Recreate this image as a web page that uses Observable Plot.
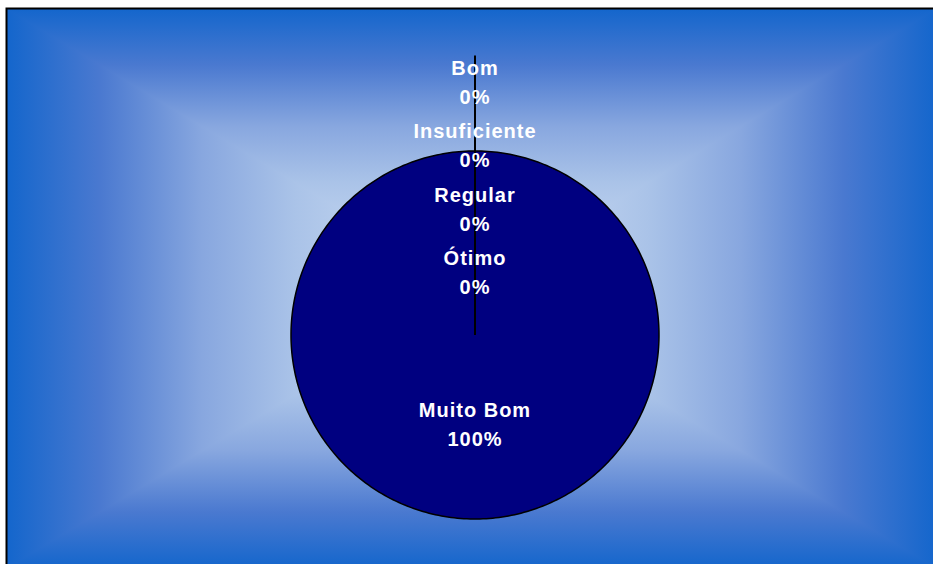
<!DOCTYPE html>
<html><head><meta charset="utf-8">
<script src="https://cdn.jsdelivr.net/npm/d3@7"></script>
<script src="https://cdn.jsdelivr.net/npm/@observablehq/plot@0.6"></script>
<style>
html,body{margin:0;padding:0;background:#fff;}
#wrap{position:relative;width:933px;height:564px;overflow:hidden;}
#wrap svg{position:absolute;left:0;top:0;}
#wrap text{letter-spacing:1px;}
</style></head><body><div id="wrap"></div>
<script>
// ---- data ----
const categories = ["Muito Bom", "Ótimo", "Regular", "Insuficiente", "Bom"];
const values = [100, 0, 0, 0, 0];
const sliceColors = ["#000080", "#000080", "#000080", "#000080", "#000080"];

// ---- layout ----
const W = 933, H = 564;
const cx = 474.5, cy = 334.5, R = 184;

// ---- background (box gradient "from center") ----
const bx0 = 7, by0 = 9, bx1 = 936, by1 = 568;
const gcx = (bx0 + bx1) / 2, gcy = (by0 + by1) / 2;
const bg = d3.select("#wrap").append("svg").attr("width", W).attr("height", H);
const defs = bg.append("defs");
const stops = [[0, "#1466cc"], [0.2, "#4a79d0"], [0.42, "#88a7df"], [0.62, "#aac3e8"], [1, "#d6e3f5"]];
const mkGrad = (id, x1, y1, x2, y2) => {
  const g = defs.append("linearGradient").attr("id", id).attr("gradientUnits", "userSpaceOnUse")
    .attr("x1", x1).attr("y1", y1).attr("x2", x2).attr("y2", y2);
  for (const [o, c] of stops) g.append("stop").attr("offset", o).attr("stop-color", c);
};
mkGrad("gT", gcx, by0, gcx, gcy);
mkGrad("gB", gcx, by1, gcx, gcy);
mkGrad("gL", bx0, gcy, gcx, gcy);
mkGrad("gR", bx1, gcy, gcx, gcy);
// top and bottom halves as full rectangles underneath
bg.append("rect").attr("x", bx0).attr("y", by0).attr("width", bx1 - bx0).attr("height", gcy - by0 + 1).attr("fill", "url(#gT)");
bg.append("rect").attr("x", bx0).attr("y", gcy).attr("width", bx1 - bx0).attr("height", by1 - gcy).attr("fill", "url(#gB)");
// left and right triangles on top
bg.append("polygon").attr("points", [[bx0, by0], [bx0, by1], [gcx, gcy]].map(p => p.join(",")).join(" ")).attr("fill", "url(#gL)");
bg.append("polygon").attr("points", [[bx1, by0], [bx1, by1], [gcx, gcy]].map(p => p.join(",")).join(" ")).attr("fill", "url(#gR)");
bg.append("rect").attr("x", bx0 - 0.5).attr("y", by0 - 0.5).attr("width", bx1 - bx0 + 10).attr("height", by1 - by0 + 10)
  .attr("fill", "none").attr("stroke", "#000").attr("stroke-width", 2);

// ---- pie geometry from data ----
const data = categories.map((c, i) => ({category: c, value: values[i], color: sliceColors[i]}));
const arcs = d3.pie().sort(null).value(d => d.value)(data);
const total = d3.sum(values);

const slicePts = [];
for (const a of arcs) {
  const span = a.endAngle - a.startAngle;
  if (span <= 0) continue;
  const full = span >= 2 * Math.PI - 1e-9;
  const n = Math.max(8, Math.ceil(span / (2 * Math.PI) * 360));
  if (!full) slicePts.push({category: a.data.category, color: a.data.color, x: 0, y: 0});
  for (let k = 0; k <= (full ? n - 1 : n); k++) {
    const t = a.startAngle + span * k / n;
    slicePts.push({category: a.data.category, color: a.data.color, x: Math.sin(t), y: Math.cos(t)});
  }
}

// labels: non-zero slices at mid-angle, zero slices stacked outward from center
const labels = [];
let zi = 0;
for (const a of arcs) {
  const mid = (a.startAngle + a.endAngle) / 2;
  const pct = Math.round(a.data.value / total * 100);
  let r;
  if (a.data.value > 0) r = 0.49;
  else { r = 0.34 + zi * 0.343; zi++; }
  labels.push({x: Math.sin(mid) * r, y: Math.cos(mid) * r, text: `${a.data.category}\n${pct}%`, zero: a.data.value === 0, mid, r});
}
// slice edges + leader line for zero-width slices
const zeroLabels = labels.filter(d => d.zero);
const leaders = zeroLabels.length ? [{
  x1: 0, y1: 0,
  x2: Math.sin(zeroLabels[0].mid) * (d3.max(zeroLabels, d => d.r) + 0.15),
  y2: Math.cos(zeroLabels[0].mid) * (d3.max(zeroLabels, d => d.r) + 0.15)
}] : [];

const chart = Plot.plot({
  width: W, height: H,
  marginTop: 0, marginRight: 0, marginBottom: 0, marginLeft: 0,
  style: {background: "transparent", overflow: "visible"},
  x: {type: "linear", domain: [(0 - cx) / R, (W - cx) / R], range: [0, W], axis: null},
  y: {type: "linear", domain: [(cy - H) / R, cy / R], range: [H, 0], axis: null},
  marks: [
    Plot.line(slicePts, {x: "x", y: "y", z: "category", fill: "color", stroke: "#000", strokeWidth: 1.5, curve: "linear-closed"}),
    Plot.link(leaders, {x1: "x1", y1: "y1", x2: "x2", y2: "y2", stroke: "#000", strokeWidth: 2}),
    Plot.text(labels, {x: "x", y: "y", text: "text", fill: "white", fontSize: 20, fontWeight: "bold", dy: -2.5,
      fontFamily: "Liberation Sans, Arial, sans-serif", lineHeight: 1.45, lineAnchor: "middle"})
  ]
});
document.getElementById("wrap").appendChild(chart);
</script>
</body></html>
